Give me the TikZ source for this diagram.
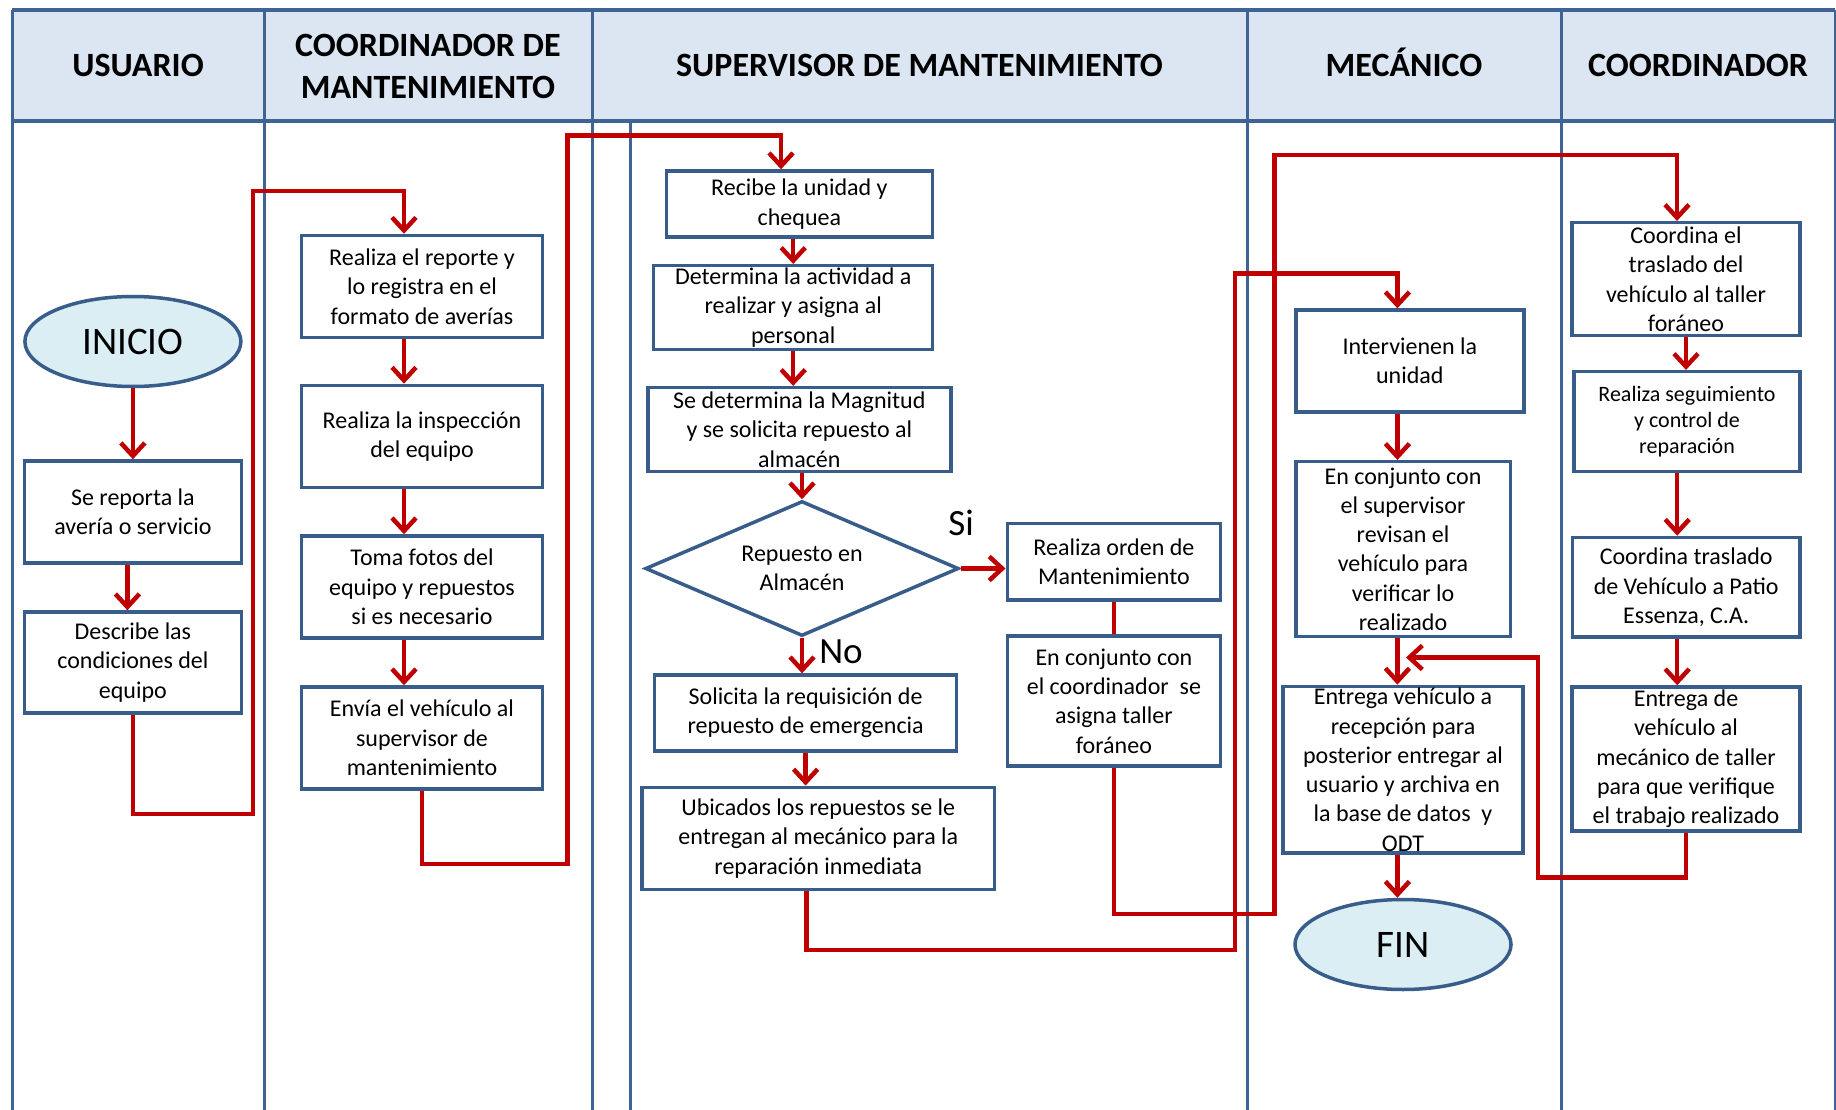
\documentclass[tikz,border=0pt]{standalone}
\usepackage{fontspec}
\setmainfont{Carlito}
\usetikzlibrary{arrows.meta,shapes.geometric}
\definecolor{laneblue}{RGB}{62,100,150}
\definecolor{boxblue}{RGB}{56,93,138}
\definecolor{headfill}{RGB}{220,230,242}
\definecolor{flowred}{RGB}{192,0,0}
\definecolor{termfill}{RGB}{219,238,244}
\begin{document}
\begin{tikzpicture}[x=1pt,y=-1pt,
  lane/.style={draw=laneblue,line width=3pt},
  head/.style={font=\fontsize{34}{42}\selectfont\bfseries,align=center,inner sep=0pt},
  headline/.style={head,anchor=base},
  proc/.style={draw=boxblue,line width=3.5pt,fill=white,align=center,inner sep=0pt,
    font=\fontsize{24}{29.3}\selectfont},
  term/.style={ellipse,draw=boxblue,line width=3.5pt,fill=termfill,inner sep=0pt,
    minimum width=216pt,minimum height=90pt,font=\fontsize{39}{44}\selectfont},
  decision/.style={diamond,draw=boxblue,line width=3.5pt,fill=white,aspect=2.32,
    inner sep=0pt,align=center,font=\fontsize{24}{29.3}\selectfont},
  flow/.style={draw=flowred,line width=4.5pt},
  arr/.style={flow,-{Straight Barb[length=13pt,width=24pt]}},
  lbl/.style={font=\fontsize{37}{44}\selectfont,inner sep=0pt},
]
\useasboundingbox (0,0) rectangle (1836,1110);
\fill[white] (0,0) rectangle (1836,1110);

% header band and swimlane rules
\fill[headfill] (12,10) rectangle (1835,121);
\draw[lane,line width=4pt] (12,10) -- (1835,10);
\draw[lane,line width=4pt] (12,121) -- (1835,121);
\foreach \lx in {12,264,592,1247,1561,1835}
  \draw[lane] (\lx,10) -- (\lx,1110);
\draw[lane] (630,121) -- (630,1110);

\node[headline] (hUsuario) at (138,77) {USUARIO};
\node[head] (hCoordMant) at (428,66) {COORDINADOR DE\\MANTENIMIENTO};
\node[headline] (hSupervisor) at (919.5,77) {SUPERVISOR DE MANTENIMIENTO};
\node[headline] (hMecanico) at (1404,77) {MECÁNICO};
\node[headline] (hCoordinador) at (1698,77) {COORDINADOR};

% usuario
\node[term] (inicio) at (132.9,341.5) {INICIO};
\node[proc,minimum width=216.7pt,minimum height=102pt] (rep) at (132.9,512) {Se reporta la\\avería o servicio};
\node[proc,minimum width=216.7pt,minimum height=101pt] (desc) at (132.9,662.5) {Describe las\\condiciones del\\equipo};

% coordinador de mantenimiento
\node[proc,minimum width=241pt,minimum height=102pt] (reporte) at (422,286.5) {Realiza el reporte y\\lo registra en el\\formato de averías};
\node[proc,minimum width=241pt,minimum height=102pt] (inspec) at (422,436.4) {Realiza la inspección\\del equipo};
\node[proc,minimum width=241pt,minimum height=102pt] (fotos) at (422,587) {Toma fotos del\\equipo y repuestos\\si es necesario};
\node[proc,minimum width=241pt,minimum height=102pt] (envia) at (422,738) {Envía el vehículo al\\supervisor de\\mantenimiento};

% supervisor de mantenimiento
\node[proc,minimum width=265.8pt,minimum height=66pt] (recibe) at (799.4,204) {Recibe la unidad y\\chequea};
\node[proc,minimum width=279pt,minimum height=83.6pt] (determ) at (793.2,307.5) {Determina la actividad a\\realizar y asigna al\\personal};
\node[proc,minimum width=303pt,minimum height=84pt] (magn) at (799.3,429.7) {Se determina la Magnitud\\y se solicita repuesto al\\almacén};
\node[decision,minimum width=313.5pt,minimum height=135pt] (dec) at (802,568.5) {Repuesto en\\Almacén};
\node[proc,minimum width=302.2pt,minimum height=75.7pt] (solic) at (805.6,712.9) {Solicita la requisición de\\repuesto de emergencia};
\node[proc,minimum width=352.7pt,minimum height=102pt] (ubic) at (818.3,838.3) {Ubicados los repuestos se le\\entregan al mecánico para la\\reparación inmediata};
\node[proc,minimum width=213.3pt,minimum height=76.7pt] (orden) at (1113.9,561.7) {Realiza orden de\\Mantenimiento};
\node[proc,minimum width=213.3pt,minimum height=130pt] (conjsup) at (1113.9,701) {En conjunto con\\el coordinador\ \ se\\asigna taller\\foráneo};
\node[lbl] (si) at (961,523) {Si};
\node[lbl] (no) at (841,652) {No};

% mecanico
\node[proc,minimum width=228pt,minimum height=101.7pt] (interv) at (1409.8,360.9) {Intervienen la\\unidad};
\node[proc,minimum width=214.5pt,minimum height=174.8pt] (conjmec) at (1403,549.1) {En conjunto con\\el supervisor\\revisan el\\vehículo para\\verificar lo\\realizado};
\node[proc,minimum width=240pt,minimum height=166.7pt] (entrega) at (1403,769.7) {Entrega vehículo a\\recepción para\\posterior entregar al\\usuario y archiva en\\la base de datos\ \ y\\ODT};
\node[term] (fin) at (1403,944.5) {FIN};

% coordinador
\node[proc,minimum width=228pt,minimum height=113pt] (coordina) at (1686,279.2) {Coordina el\\traslado del\\vehículo al taller\\foráneo};
\node[proc,minimum width=226pt,minimum height=100pt,font=\fontsize{22}{26.4}\selectfont] (seguim) at (1687,421.7) {Realiza seguimiento\\y control de\\reparación};
\node[proc,minimum width=227.5pt,minimum height=99.5pt] (traslado) at (1686.2,587.2) {Coordina traslado\\de Vehículo a Patio\\Essenza, C.A.};
\node[proc,minimum width=228pt,minimum height=144pt] (entregade) at (1686,759) {Entrega de\\vehículo al\\mecánico de taller\\para que verifique\\el trabajo realizado};

% bends of the long connectors
\coordinate (b1a) at (253,813.8);
\coordinate (b1b) at (253,191);
\coordinate (b2a) at (567.4,864.2);
\coordinate (b2b) at (567.4,135.5);
\coordinate (b3a) at (1274.4,914);
\coordinate (b3b) at (1274.4,155);
\coordinate (b4a) at (1235,950);
\coordinate (b4b) at (1235,273.5);
\coordinate (b5a) at (1538,877.5);
\coordinate (b5b) at (1538,657.5);
\coordinate (retEnd) at (1406,657.5);
\coordinate (mx) at (1397.4,0);

% usuario flow
\draw[arr] (inicio) -- (rep);
\draw[arr] ([xshift=-5.5pt]rep.south) -- ([xshift=-5.5pt]desc.north);
\draw[arr] (desc.south) |- (b1a) -- (b1b) -| ([xshift=-18pt]reporte.north);

% coordinador de mantenimiento flow
\draw[arr] ([xshift=-18pt]reporte.south) -- ([xshift=-18pt]inspec.north);
\draw[arr] ([xshift=-18pt]inspec.south) -- ([xshift=-18pt]fotos.north);
\draw[arr] ([xshift=-18pt]fotos.south) -- ([xshift=-18pt]envia.north);
\draw[arr] (envia.south) |- (b2a) -- (b2b) -| ([xshift=-18.4pt]recibe.north);

% supervisor flow
\draw[arr] (recibe.south -| determ.north) -- (determ.north);
\draw[arr] (determ.south) -- (determ.south |- magn.north);
\draw[arr] (magn.south -| dec.north) -- (dec.north);
\draw[arr] (dec.south) -- (dec.south |- solic.north);
\draw[arr] (solic.south) -- (solic.south |- ubic.north);
\draw[arr] (dec.east) -- (dec.east -| orden.west);
\draw[flow] (orden.south) -- (conjsup.north);
\draw[arr] (conjsup.south) |- (b3a) -- (b3b) -| ([xshift=-9pt]coordina.north);
\draw[arr] ([xshift=-12pt]ubic.south) |- (b4a) -- (b4b) -| ([xshift=-12.4pt]interv.north);

% mecanico flow
\draw[arr] (interv.south -| mx) -- (conjmec.north -| mx);
\draw[arr] (conjmec.south -| mx) -- (entrega.north -| mx);
\draw[arr] (entrega.south -| mx) -- (fin.north -| mx);

% coordinador flow
\draw[arr] (coordina.south) -- (coordina.south |- seguim.north);
\draw[arr] ([xshift=-9.8pt]seguim.south) -- ([xshift=-9.8pt]seguim.south |- traslado.north);
\draw[arr] ([xshift=-9pt]traslado.south) -- ([xshift=-9pt]traslado.south |- entregade.north);
\draw[arr] (entregade.south) |- (b5a) -- (b5b) -- (retEnd);
\end{tikzpicture}
\end{document}
